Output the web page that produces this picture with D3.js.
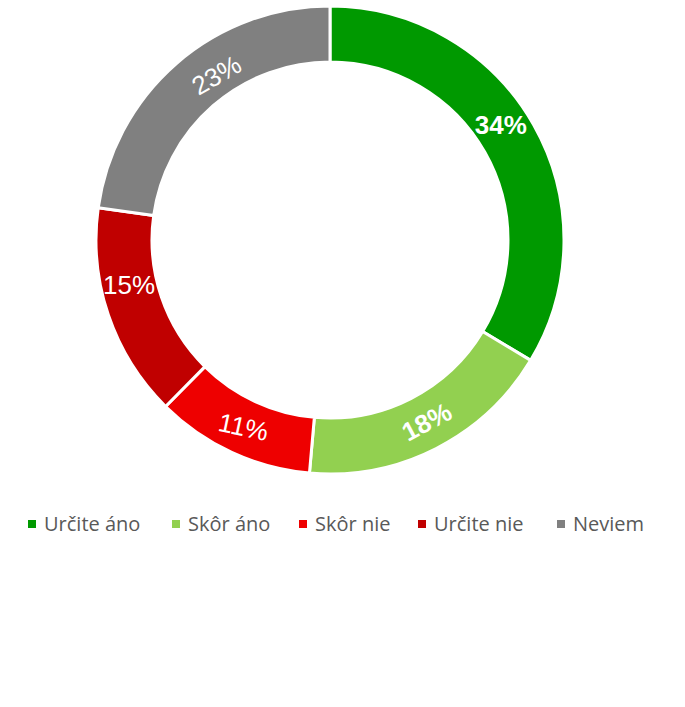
<!DOCTYPE html>
<html><head><meta charset="utf-8">
<script src="https://cdn.jsdelivr.net/npm/d3@7/dist/d3.min.js"></script>
<style>html,body{margin:0;padding:0;background:#fff;}</style>
</head><body>
<svg id="chart" width="685" height="707"></svg>
<script>
const categories = ["Určite áno", "Skôr áno", "Skôr nie", "Určite nie", "Neviem"];
const values = [33.6, 17.8, 11.0, 14.8, 22.8];
const labels = ["34%", "18%", "11%", "15%", "23%"];

const colors = ["#009900", "#92D050", "#EE0000", "#C00000", "#808080"];
const labelBold = [true, true, false, false, false];
const labelRotate = [0, -28, 12, 0, -30];
const labelAngleNudge = [-4.5, -1, 0, 6, 6.5];
const labelRadiusNudge = [0, 0, 0, 0, -6];

const svg = d3.select("#chart");
const cx = 330, cy = 240, rOuter = 234, rInner = 178;
const g = svg.append("g").attr("transform", `translate(${cx},${cy})`);

const pie = d3.pie().sort(null).value(d => d)(values);
const arc = d3.arc().innerRadius(rInner).outerRadius(rOuter);

g.selectAll("path.slice").data(pie).join("path")
  .attr("class", "slice")
  .attr("d", arc)
  .attr("fill", (d, i) => colors[i])
  .attr("stroke", "#fff").attr("stroke-width", 3);

const rMid = (rInner + rOuter) / 2;
g.selectAll("text.lbl").data(pie).join("text")
  .attr("class", "lbl")
  .attr("transform", (d, i) => {
    const a = (d.startAngle + d.endAngle) / 2 + labelAngleNudge[i] * Math.PI / 180;
    const r = rMid + labelRadiusNudge[i];
    const x = r * Math.sin(a), y = -r * Math.cos(a);
    return `translate(${x},${y}) rotate(${labelRotate[i]})`;
  })
  .attr("text-anchor", "middle")
  .attr("dominant-baseline", "central")
  .attr("font-family", "Liberation Sans, Arial, sans-serif")
  .attr("font-size", 26)
  .attr("font-weight", (d, i) => labelBold[i] ? "bold" : "normal")
  .attr("fill", "#fff")
  .text((d, i) => labels[i]);

// legend
const legendX = [28, 172, 299, 418, 557];
const lg = svg.append("g");
categories.forEach((c, i) => {
  lg.append("rect").attr("x", legendX[i]).attr("y", 520).attr("width", 8).attr("height", 8).attr("fill", colors[i]);
  lg.append("text").attr("x", legendX[i] + 16).attr("y", 531)
    .attr("font-family", "Open Sans, sans-serif").attr("font-size", 20)
    .attr("fill", "#595959").text(c);
});
</script>
</body></html>
